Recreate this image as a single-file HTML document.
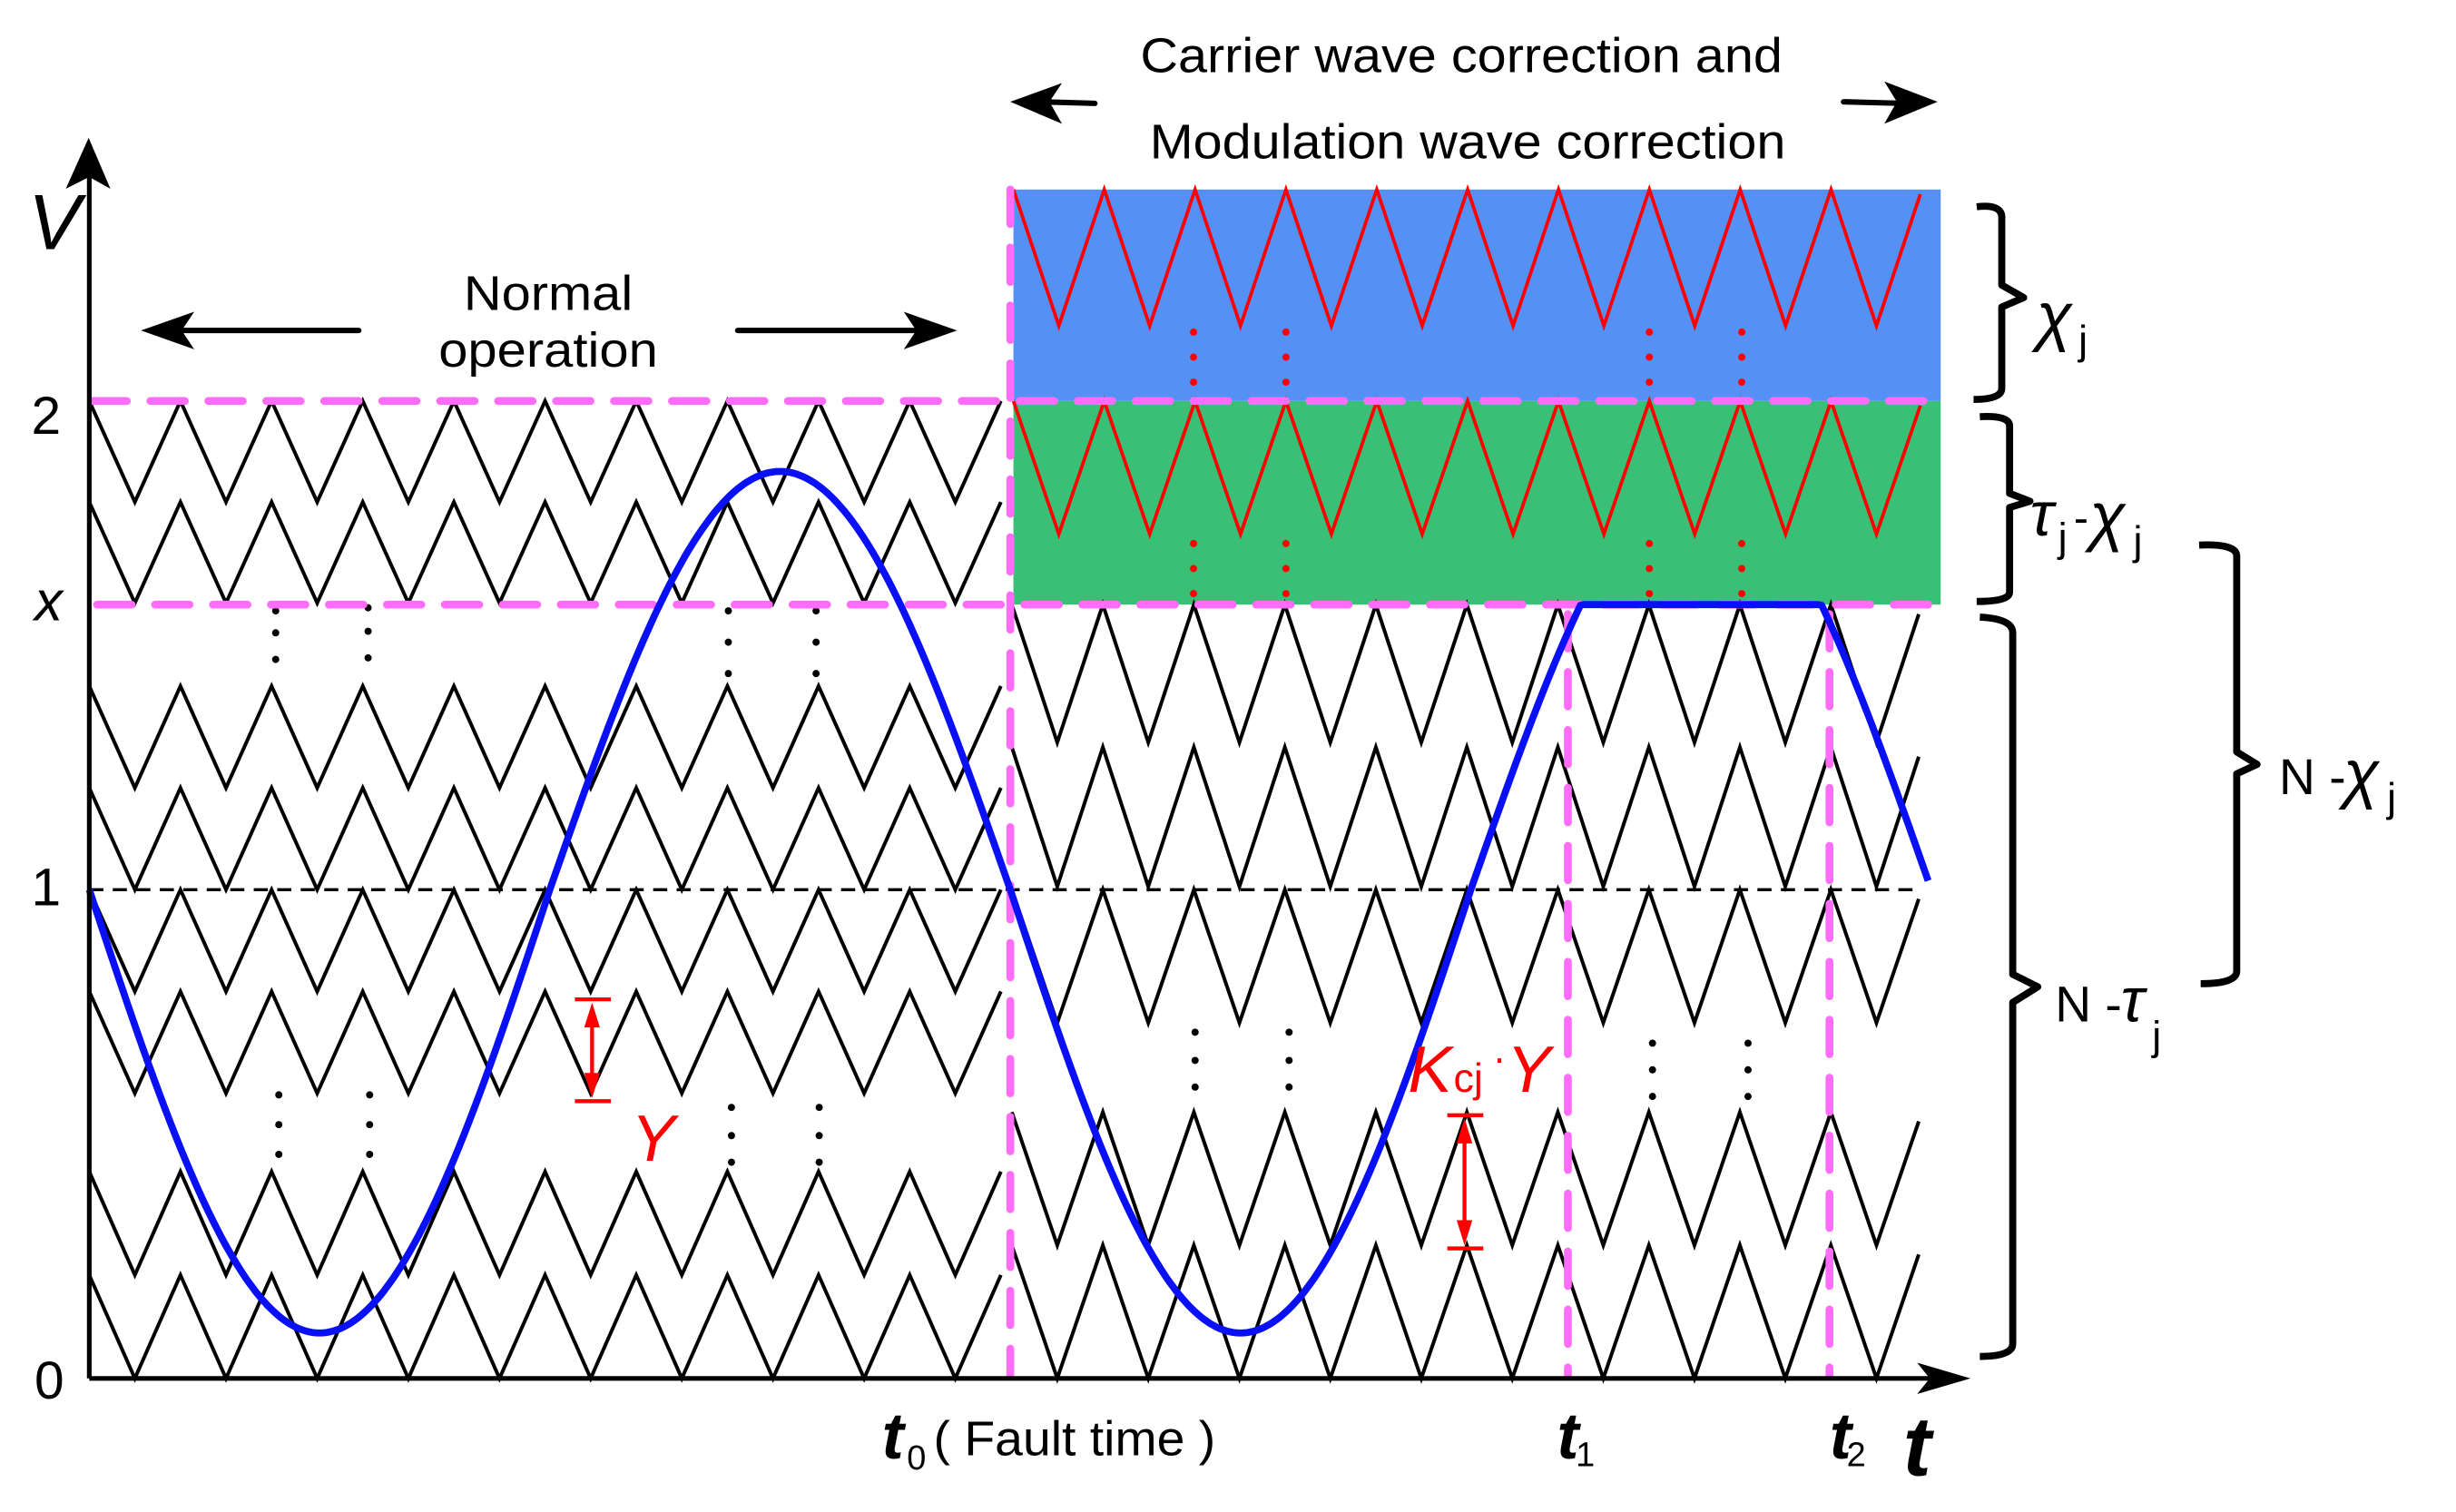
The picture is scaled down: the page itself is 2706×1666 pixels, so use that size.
<!DOCTYPE html>
<html><head><meta charset="utf-8"><style>
html,body{margin:0;padding:0;background:#fff;}
svg{display:block;}
text{font-family:"Liberation Sans",sans-serif;}
</style></head><body>
<svg id="s" width="2706" height="1666" viewBox="0 0 1568 965.3" preserveAspectRatio="none" xmlns="http://www.w3.org/2000/svg">
<rect x="647" y="121" width="592" height="135" fill="#5591f5"/>
<rect x="647" y="256" width="592" height="130" fill="#3abf77"/>
<g id="zz" fill="none" stroke-linejoin="miter"></g>
<line x1="57" y1="568" x2="1226" y2="568" stroke="#000" stroke-width="2" stroke-dasharray="9,6"/>
<g fill="#000">
<circle cx="176" cy="390" r="2.3"/><circle cx="176" cy="404" r="2.3"/><circle cx="176" cy="421" r="2.3"/>
<circle cx="235" cy="388" r="2.3"/><circle cx="235" cy="403" r="2.3"/><circle cx="235" cy="420" r="2.3"/>
<circle cx="465" cy="390" r="2.3"/><circle cx="465" cy="410" r="2.3"/><circle cx="465" cy="430" r="2.3"/>
<circle cx="521" cy="390" r="2.3"/><circle cx="521" cy="410" r="2.3"/><circle cx="521" cy="430" r="2.3"/>
<circle cx="178" cy="699" r="2.3"/><circle cx="178" cy="718" r="2.3"/><circle cx="178" cy="737" r="2.3"/>
<circle cx="236" cy="699" r="2.3"/><circle cx="236" cy="718" r="2.3"/><circle cx="236" cy="737" r="2.3"/>
<circle cx="467" cy="707" r="2.3"/><circle cx="467" cy="725" r="2.3"/><circle cx="467" cy="742" r="2.3"/>
<circle cx="523" cy="707" r="2.3"/><circle cx="523" cy="725" r="2.3"/><circle cx="523" cy="742" r="2.3"/>
<circle cx="763" cy="659" r="2.3"/><circle cx="763" cy="677" r="2.3"/><circle cx="763" cy="694" r="2.3"/>
<circle cx="823" cy="659" r="2.3"/><circle cx="823" cy="677" r="2.3"/><circle cx="823" cy="694" r="2.3"/>
<circle cx="1055" cy="666" r="2.3"/><circle cx="1055" cy="683" r="2.3"/><circle cx="1055" cy="700" r="2.3"/>
<circle cx="1116" cy="666" r="2.3"/><circle cx="1116" cy="683" r="2.3"/><circle cx="1116" cy="700" r="2.3"/>
</g>
<g fill="#f00">
<circle cx="762" cy="212" r="2.3"/><circle cx="762" cy="228" r="2.3"/><circle cx="762" cy="244" r="2.3"/>
<circle cx="821" cy="212" r="2.3"/><circle cx="821" cy="228" r="2.3"/><circle cx="821" cy="244" r="2.3"/>
<circle cx="1053" cy="212" r="2.3"/><circle cx="1053" cy="228" r="2.3"/><circle cx="1053" cy="244" r="2.3"/>
<circle cx="1112" cy="212" r="2.3"/><circle cx="1112" cy="228" r="2.3"/><circle cx="1112" cy="244" r="2.3"/>
<circle cx="762" cy="347" r="2.3"/><circle cx="762" cy="363" r="2.3"/><circle cx="762" cy="379" r="2.3"/>
<circle cx="821" cy="347" r="2.3"/><circle cx="821" cy="363" r="2.3"/><circle cx="821" cy="379" r="2.3"/>
<circle cx="1053" cy="347" r="2.3"/><circle cx="1053" cy="363" r="2.3"/><circle cx="1053" cy="379" r="2.3"/>
<circle cx="1112" cy="347" r="2.3"/><circle cx="1112" cy="363" r="2.3"/><circle cx="1112" cy="379" r="2.3"/>
</g>
<g stroke="#ff6cf8" stroke-width="5" stroke-linecap="round" fill="none" stroke-dasharray="22,15">
<line x1="59" y1="256" x2="1238" y2="256"/>
<line x1="62" y1="386" x2="1238" y2="386"/>
<line x1="645" y1="121" x2="645" y2="878"/>
<line x1="1001" y1="392" x2="1001" y2="878"/>
<line x1="1168" y1="392" x2="1168" y2="878"/>
</g>
<path id="sine" fill="none" stroke="#0a10f5" stroke-width="4.5" stroke-linejoin="round"/>
<line x1="57" y1="880" x2="57" y2="95" stroke="#000" stroke-width="3"/>
<path d="M56.6,88 L70.5,120.5 L57,113 L42,120.5 Z" fill="#000"/>
<line x1="57" y1="880" x2="1250" y2="880" stroke="#000" stroke-width="3"/>
<path d="M1258,880 L1224,870 L1232,880 L1224,890 Z" fill="#000"/>
<g stroke="#f00" stroke-width="2.5" fill="#f00">
<line x1="367" y1="638" x2="390" y2="638"/><line x1="367" y1="703" x2="390" y2="703"/>
<line x1="378" y1="645" x2="378" y2="696"/>
<path d="M378,640 L373,656 L383,656 Z" stroke="none"/><path d="M378,701 L373,685 L383,685 Z" stroke="none"/>
<line x1="924" y1="712" x2="947" y2="712"/><line x1="924" y1="797" x2="947" y2="797"/>
<line x1="935" y1="718" x2="935" y2="790"/>
<path d="M935,714 L930,730 L940,730 Z" stroke="none"/><path d="M935,795 L930,779 L940,779 Z" stroke="none"/>
</g>
<g stroke="#000" stroke-width="3.5" stroke-linecap="round">
<line x1="229" y1="211" x2="110" y2="211"/>
<line x1="471" y1="211" x2="590" y2="211"/>
<line x1="699" y1="66" x2="665" y2="65"/>
<line x1="1177" y1="65" x2="1215" y2="66"/>
</g>
<path d="M90,211 L124,199 L116,211 L124,223 Z" fill="#000"/>
<path d="M611,211 L577,199 L585,211 L577,223 Z" fill="#000"/>
<path d="M645,65 L678,53 L670,65 L678,79 Z" fill="#000"/>
<path d="M1237,65 L1203,52 L1211,65 L1203,79 Z" fill="#000"/>
<g fill="none" stroke="#000" stroke-width="4.5" stroke-linejoin="round">
<path d="M1262,132 Q1279,130 1278,140 L1278,182 L1292,190 L1278,196 L1278,248 Q1278,255 1260,255"/>
<path d="M1264,266 Q1283,265 1283,272 L1283,315 L1296,320 L1283,324 L1283,378 Q1283,384 1262,384"/>
<path d="M1264,394 Q1285,395 1285,404 L1285,622 L1301,630 L1285,640 L1285,858 Q1285,866 1264,866"/>
<path d="M1404,348 Q1428,347 1428,355 L1428,480 L1441,488 L1428,494 L1428,620 Q1428,628 1405,628"/>
</g>
<g font-size="31" fill="#000">
<text x="350" y="198" text-anchor="middle" textLength="108" lengthAdjust="spacingAndGlyphs">Normal</text>
<text x="350" y="234" text-anchor="middle" textLength="140" lengthAdjust="spacingAndGlyphs">operation</text>
<text x="933" y="46" text-anchor="middle" textLength="410" lengthAdjust="spacingAndGlyphs">Carrier wave correction and</text>
<text x="937" y="101" text-anchor="middle" textLength="406" lengthAdjust="spacingAndGlyphs">Modulation wave correction</text>
<text x="20" y="277" font-size="34">2</text>
<text x="20" y="578" font-size="34">1</text>
<text x="22" y="893" font-size="34">0</text>
<text x="22" y="396" font-size="36" font-style="italic">x</text>
<text x="18" y="159" font-size="50" font-style="italic">V</text>
<text x="596" y="929" textLength="180" lengthAdjust="spacingAndGlyphs">( Fault time )</text>
</g>
<g font-family="Liberation Serif,serif" font-style="italic" font-weight="bold" fill="#000">
<text x="563" y="931" font-size="42">t</text>
<text x="994" y="931" font-size="42">t</text>
<text x="1168" y="931" font-size="42">t</text>
<text x="1215" y="942" font-size="54">t</text>
</g>
<g font-size="22" fill="#000">
<text x="579" y="938">0</text><text x="1006" y="936">1</text><text x="1179" y="936">2</text>
</g>
<g fill="#f00" font-style="italic">
<text x="403" y="741" font-size="42">Y</text>
<text x="899" y="697" font-size="42">K</text>
<text x="928" y="697" font-size="26" font-style="normal">cj</text>
<text x="953" y="684" font-size="26" font-style="normal">·</text>
<text x="962" y="697" font-size="42">Y</text>
</g>
<g fill="#000">
<text x="1300" y="216" font-family="Liberation Serif,serif" font-style="italic" font-size="42">χ</text>
<text x="1327" y="226" font-family="Liberation Serif,serif" font-size="26">j</text>
<text x="1296" y="342" font-family="Liberation Serif,serif" font-style="italic" font-size="40">τ</text>
<text x="1314" y="352" font-family="Liberation Serif,serif" font-size="26">j</text>
<text x="1324" y="340" font-size="28">-</text>
<text x="1334" y="344" font-family="Liberation Serif,serif" font-style="italic" font-size="42">χ</text>
<text x="1362" y="354" font-family="Liberation Serif,serif" font-size="26">j</text>
<text x="1455" y="507" font-size="32">N -</text>
<text x="1496" y="508" font-family="Liberation Serif,serif" font-style="italic" font-size="42">χ</text>
<text x="1524" y="518" font-family="Liberation Serif,serif" font-size="26">j</text>
<text x="1312" y="652" font-size="32">N -</text>
<text x="1354" y="652" font-family="Liberation Serif,serif" font-style="italic" font-size="40">τ</text>
<text x="1374" y="670" font-family="Liberation Serif,serif" font-size="26">j</text>
</g>
</svg>
<script>
(function(){
var NS="http://www.w3.org/2000/svg",g=document.getElementById("zz");
function zig(x0,p,n,top,bot,end,color,w){
  var d="M"+x0+","+top;
  for(var k=0;k<n;k++){
    var xv=x0+p*k+p/2, xp=x0+p*(k+1);
    d+=" L"+xv.toFixed(1)+","+bot;
    if(xp<=end+0.5){d+=" L"+xp.toFixed(1)+","+top;}
    else{var f=(end-xv)/(p/2);d+=" L"+end+","+(bot-(bot-top)*f).toFixed(1);break;}
  }
  var e=document.createElementNS(NS,"path");e.setAttribute("d",d);
  e.setAttribute("stroke",color);e.setAttribute("stroke-width",w);g.appendChild(e);
}
var L=[[256,320.5],[320.5,385],[438,503],[503,568],[568,633],[633,698],[748,814],[814,880]];
L.forEach(function(r){zig(57,58.2,10,r[0],r[1],639.6,"#000",2.3);});
var R=[[386,474],[477,566],[568,653],[710,795],[795,880]];
R.forEach(function(r){zig(646,58.1,10,r[0],r[1],1225,"#000",2.3);});
zig(647,58,10,121,208,1226,"#f00",2.2);
zig(647,58,10,256,341,1226,"#f00",2.2);
var d="",P=588;
for(var x=57;x<=1231;x+=2){
  var s=Math.sin(2*Math.PI*(x-57)/P);
  var y=568+(s>0?283:267)*s;
  if(x>900&&y<386)y=386;
  d+=(d?" L":"M")+x+","+y.toFixed(1);
}
document.getElementById("sine").setAttribute("d",d);
})();
</script>
</body></html>
